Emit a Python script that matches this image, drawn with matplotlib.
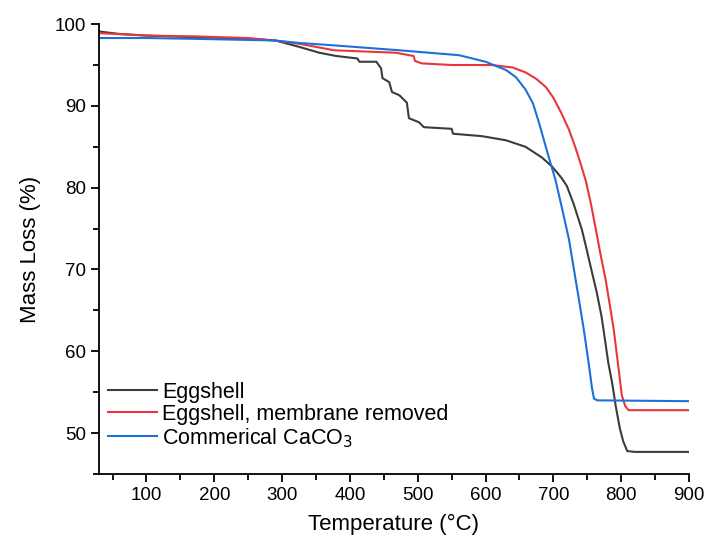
import numpy as np
import matplotlib
matplotlib.use("Agg")
import matplotlib.pyplot as plt
from matplotlib.ticker import MultipleLocator

plt.rcParams['font.family'] = ['Liberation Sans', 'DejaVu Sans']

# Eggshell (black)
egg_T = [30, 60, 100, 170, 250, 290, 326, 355, 380, 411, 414, 439, 446, 448,
         458, 462, 473, 484, 487, 502, 509, 550, 552, 595, 630, 659, 683, 698,
         712, 720, 730, 742, 749, 756, 764, 771, 776, 781, 787, 792, 798, 803, 809, 820, 900]
egg_m = [99.1, 98.8, 98.6, 98.4, 98.2, 98.0, 97.2, 96.5, 96.1, 95.8, 95.4, 95.4, 94.6, 93.4,
         92.9, 91.7, 91.3, 90.4, 88.5, 88.0, 87.4, 87.2, 86.6, 86.3, 85.8, 85.0, 83.7, 82.6,
         81.2, 80.2, 78.0, 74.9, 72.5, 70.0, 67.2, 64.3, 61.5, 58.6, 56.0, 53.3, 50.6, 49.0, 47.8, 47.7, 47.7]

# Eggshell, membrane removed (red)
mem_T = [30, 100, 171, 250, 289, 325, 377, 468, 494, 496, 506, 550, 609, 640,
         659, 675, 689, 700, 712, 723, 733, 740, 748, 755, 762, 769, 777, 783, 789, 796, 801, 806, 811, 900]
mem_m = [98.9, 98.6, 98.5, 98.3, 98.0, 97.6, 96.8, 96.5, 96.1, 95.5, 95.2, 95.0, 95.0, 94.7,
         94.1, 93.3, 92.3, 91.0, 89.1, 87.1, 84.8, 83.0, 80.8, 78.2, 75.2, 72.1, 68.8, 65.8, 62.7, 58.0, 54.6, 53.3, 52.8, 52.8]

# Commercial CaCO3 (blue)
cac_T = [30, 100, 171, 289, 325, 377, 473, 561, 600, 630, 645, 659, 670, 679,
         693, 703, 713, 723, 730, 737, 745, 752, 757, 760, 765, 900]
cac_m = [98.3, 98.3, 98.2, 98.0, 97.7, 97.4, 96.8, 96.2, 95.4, 94.4, 93.5, 92.0, 90.3, 87.9,
         83.8, 81.0, 77.4, 73.7, 70.2, 66.7, 62.6, 58.6, 55.5, 54.2, 54.0, 53.9]

fig = plt.figure(figsize=(7.07, 5.42), dpi=100)
ax = fig.add_axes([0.14, 0.1255, 0.8345, 0.83])

ax.plot(egg_T, egg_m, color='#3c3c3c', lw=1.5, label='Eggshell')
ax.plot(mem_T, mem_m, color='#e8363c', lw=1.5, label='Eggshell, membrane removed')
ax.plot(cac_T, cac_m, color='#1f6fd8', lw=1.5, label='Commerical CaCO$_3$')

ax.set_xlim(30, 900)
ax.set_ylim(45, 100)
ax.xaxis.set_minor_locator(MultipleLocator(50))
ax.yaxis.set_minor_locator(MultipleLocator(5))
ax.set_xticks(np.arange(100, 901, 100))
ax.set_yticks(np.arange(50, 101, 10))

ax.spines['top'].set_visible(False)
ax.spines['right'].set_visible(False)
ax.spines['left'].set_linewidth(1.3)
ax.spines['bottom'].set_linewidth(1.3)
ax.tick_params(which='major', direction='out', length=6, width=1.3, labelsize=13.5)
ax.tick_params(which='minor', direction='out', length=4, width=1.3)

ax.set_xlabel('Temperature (°C)', fontsize=16, labelpad=7)
ax.set_ylabel('Mass Loss (%)', fontsize=16, labelpad=10)

ax.legend(loc='lower left', bbox_to_anchor=(0.0, 0.035), frameon=False, fontsize=15.5,
          handlelength=2.3, handletextpad=0.25, labelspacing=0.05, borderaxespad=0.0)

plt.savefig('out.png', dpi=100)
